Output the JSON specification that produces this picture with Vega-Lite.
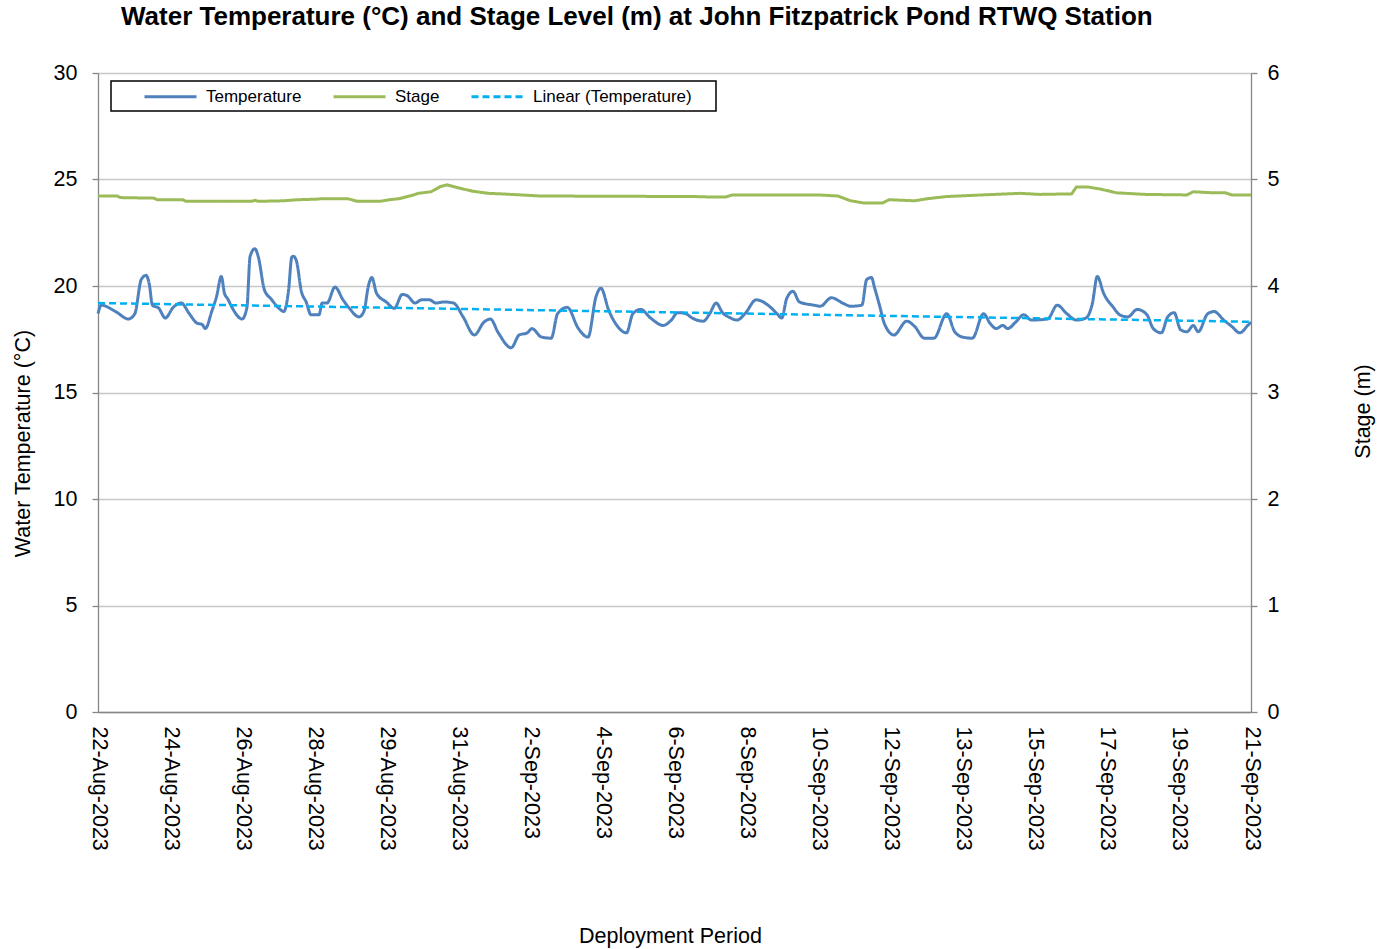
{
  "$schema": "https://vega.github.io/schema/vega-lite/v6.json",
  "width": 1153,
  "height": 639,
  "autosize": {"type": "none"},
  "padding": {"left": 98, "top": 73, "right": 141, "bottom": 237},
  "background": "white",
  "title": {
    "text": "Water Temperature (°C) and Stage Level (m) at John Fitzpatrick Pond RTWQ Station",
    "anchor": "start",
    "frame": "group",
    "dx": 23,
    "offset": 11,
    "baseline": "alphabetic",
    "font": "Liberation Sans",
    "fontSize": 26,
    "fontWeight": "bold",
    "color": "black"
  },
  "datasets": {
    "temp": [
      {"t": "2023-08-22T00:00", "T": 18.7},
      {"t": "2023-08-22T02:00", "T": 19.1},
      {"t": "2023-08-22T11:00", "T": 18.8},
      {"t": "2023-08-22T19:00", "T": 18.45},
      {"t": "2023-08-22T23:00", "T": 18.7},
      {"t": "2023-08-23T03:00", "T": 20.3},
      {"t": "2023-08-23T06:00", "T": 20.5},
      {"t": "2023-08-23T08:00", "T": 20.1},
      {"t": "2023-08-23T10:00", "T": 19.1},
      {"t": "2023-08-23T14:00", "T": 18.95},
      {"t": "2023-08-23T18:00", "T": 18.5},
      {"t": "2023-08-23T23:00", "T": 19.0},
      {"t": "2023-08-24T04:00", "T": 19.2},
      {"t": "2023-08-24T09:00", "T": 18.7},
      {"t": "2023-08-24T14:00", "T": 18.25},
      {"t": "2023-08-24T17:00", "T": 18.2},
      {"t": "2023-08-24T19:00", "T": 18.0},
      {"t": "2023-08-24T23:00", "T": 18.8},
      {"t": "2023-08-25T02:00", "T": 19.5},
      {"t": "2023-08-25T05:00", "T": 20.45},
      {"t": "2023-08-25T07:00", "T": 19.65},
      {"t": "2023-08-25T09:00", "T": 19.4},
      {"t": "2023-08-25T12:00", "T": 18.95},
      {"t": "2023-08-25T18:00", "T": 18.45},
      {"t": "2023-08-25T21:00", "T": 19.0},
      {"t": "2023-08-25T23:00", "T": 21.4},
      {"t": "2023-08-26T02:00", "T": 21.75},
      {"t": "2023-08-26T04:00", "T": 21.4},
      {"t": "2023-08-26T08:00", "T": 19.8},
      {"t": "2023-08-26T12:00", "T": 19.4},
      {"t": "2023-08-26T17:00", "T": 18.95},
      {"t": "2023-08-26T20:00", "T": 18.8},
      {"t": "2023-08-26T23:00", "T": 19.8},
      {"t": "2023-08-27T01:00", "T": 21.35},
      {"t": "2023-08-27T02:00", "T": 21.4},
      {"t": "2023-08-27T04:00", "T": 21.15},
      {"t": "2023-08-27T07:00", "T": 19.75},
      {"t": "2023-08-27T10:00", "T": 19.25},
      {"t": "2023-08-27T13:00", "T": 18.65},
      {"t": "2023-08-27T18:00", "T": 18.65},
      {"t": "2023-08-27T20:00", "T": 19.2},
      {"t": "2023-08-27T23:00", "T": 19.2},
      {"t": "2023-08-28T04:00", "T": 19.95},
      {"t": "2023-08-28T09:00", "T": 19.35},
      {"t": "2023-08-28T13:00", "T": 18.95},
      {"t": "2023-08-28T19:00", "T": 18.55},
      {"t": "2023-08-28T22:00", "T": 18.8},
      {"t": "2023-08-29T01:00", "T": 20.05},
      {"t": "2023-08-29T03:00", "T": 20.4},
      {"t": "2023-08-29T06:00", "T": 19.65},
      {"t": "2023-08-29T12:00", "T": 19.25},
      {"t": "2023-08-29T17:00", "T": 18.95},
      {"t": "2023-08-29T22:00", "T": 19.6},
      {"t": "2023-08-30T01:00", "T": 19.55},
      {"t": "2023-08-30T06:00", "T": 19.2},
      {"t": "2023-08-30T10:00", "T": 19.35},
      {"t": "2023-08-30T15:00", "T": 19.35},
      {"t": "2023-08-30T19:00", "T": 19.2},
      {"t": "2023-08-31T00:00", "T": 19.25},
      {"t": "2023-08-31T06:00", "T": 19.2},
      {"t": "2023-08-31T12:00", "T": 18.55},
      {"t": "2023-08-31T19:00", "T": 17.7},
      {"t": "2023-09-01T01:00", "T": 18.3},
      {"t": "2023-09-01T05:00", "T": 18.45},
      {"t": "2023-09-01T10:00", "T": 17.8},
      {"t": "2023-09-01T18:00", "T": 17.1},
      {"t": "2023-09-01T23:00", "T": 17.7},
      {"t": "2023-09-02T04:00", "T": 17.8},
      {"t": "2023-09-02T07:00", "T": 18.0},
      {"t": "2023-09-02T13:00", "T": 17.6},
      {"t": "2023-09-02T19:00", "T": 17.55},
      {"t": "2023-09-02T23:00", "T": 18.7},
      {"t": "2023-09-03T05:00", "T": 19.0},
      {"t": "2023-09-03T12:00", "T": 18.0},
      {"t": "2023-09-03T18:00", "T": 17.6},
      {"t": "2023-09-03T23:00", "T": 19.5},
      {"t": "2023-09-04T02:00", "T": 19.9},
      {"t": "2023-09-04T07:00", "T": 18.85},
      {"t": "2023-09-04T12:00", "T": 18.15},
      {"t": "2023-09-04T18:00", "T": 17.8},
      {"t": "2023-09-04T22:00", "T": 18.7},
      {"t": "2023-09-05T03:00", "T": 18.9},
      {"t": "2023-09-05T09:00", "T": 18.5},
      {"t": "2023-09-05T17:00", "T": 18.15},
      {"t": "2023-09-05T22:00", "T": 18.4},
      {"t": "2023-09-06T02:00", "T": 18.75},
      {"t": "2023-09-06T07:00", "T": 18.7},
      {"t": "2023-09-06T11:00", "T": 18.5},
      {"t": "2023-09-06T18:00", "T": 18.35},
      {"t": "2023-09-06T22:00", "T": 18.7},
      {"t": "2023-09-07T02:00", "T": 19.2},
      {"t": "2023-09-07T06:00", "T": 18.75},
      {"t": "2023-09-07T11:00", "T": 18.5},
      {"t": "2023-09-07T15:00", "T": 18.4},
      {"t": "2023-09-07T20:00", "T": 18.7},
      {"t": "2023-09-08T03:00", "T": 19.35},
      {"t": "2023-09-08T12:00", "T": 19.0},
      {"t": "2023-09-08T16:00", "T": 18.7},
      {"t": "2023-09-08T19:00", "T": 18.5},
      {"t": "2023-09-08T22:00", "T": 19.4},
      {"t": "2023-09-09T02:00", "T": 19.75},
      {"t": "2023-09-09T06:00", "T": 19.25},
      {"t": "2023-09-09T15:00", "T": 19.1},
      {"t": "2023-09-09T19:00", "T": 19.05},
      {"t": "2023-09-10T02:00", "T": 19.45},
      {"t": "2023-09-10T09:00", "T": 19.2},
      {"t": "2023-09-10T14:00", "T": 19.05},
      {"t": "2023-09-10T21:00", "T": 19.1},
      {"t": "2023-09-11T00:00", "T": 20.3},
      {"t": "2023-09-11T03:00", "T": 20.4},
      {"t": "2023-09-11T05:00", "T": 19.9},
      {"t": "2023-09-11T08:00", "T": 19.1},
      {"t": "2023-09-11T11:00", "T": 18.25},
      {"t": "2023-09-11T17:00", "T": 17.7},
      {"t": "2023-09-12T01:00", "T": 18.35},
      {"t": "2023-09-12T06:00", "T": 18.1},
      {"t": "2023-09-12T12:00", "T": 17.55},
      {"t": "2023-09-12T18:00", "T": 17.55},
      {"t": "2023-09-13T02:00", "T": 18.7},
      {"t": "2023-09-13T07:00", "T": 17.85},
      {"t": "2023-09-13T12:00", "T": 17.6},
      {"t": "2023-09-13T18:00", "T": 17.55},
      {"t": "2023-09-14T01:00", "T": 18.7},
      {"t": "2023-09-14T05:00", "T": 18.25},
      {"t": "2023-09-14T09:00", "T": 18.0},
      {"t": "2023-09-14T13:00", "T": 18.15},
      {"t": "2023-09-14T16:00", "T": 18.0},
      {"t": "2023-09-14T21:00", "T": 18.3},
      {"t": "2023-09-15T02:00", "T": 18.65},
      {"t": "2023-09-15T07:00", "T": 18.4},
      {"t": "2023-09-15T17:00", "T": 18.45},
      {"t": "2023-09-15T23:00", "T": 19.1},
      {"t": "2023-09-16T05:00", "T": 18.7},
      {"t": "2023-09-16T11:00", "T": 18.4},
      {"t": "2023-09-16T17:00", "T": 18.5},
      {"t": "2023-09-16T21:00", "T": 19.2},
      {"t": "2023-09-17T00:00", "T": 20.45},
      {"t": "2023-09-17T04:00", "T": 19.65},
      {"t": "2023-09-17T10:00", "T": 19.0},
      {"t": "2023-09-17T14:00", "T": 18.65},
      {"t": "2023-09-17T19:00", "T": 18.55},
      {"t": "2023-09-18T01:00", "T": 18.9},
      {"t": "2023-09-18T07:00", "T": 18.65},
      {"t": "2023-09-18T11:00", "T": 18.0},
      {"t": "2023-09-18T16:00", "T": 17.8},
      {"t": "2023-09-18T20:00", "T": 18.55},
      {"t": "2023-09-19T00:00", "T": 18.75},
      {"t": "2023-09-19T04:00", "T": 17.95},
      {"t": "2023-09-19T08:00", "T": 17.85},
      {"t": "2023-09-19T12:00", "T": 18.15},
      {"t": "2023-09-19T15:00", "T": 17.85},
      {"t": "2023-09-19T21:00", "T": 18.7},
      {"t": "2023-09-20T01:00", "T": 18.8},
      {"t": "2023-09-20T07:00", "T": 18.4},
      {"t": "2023-09-20T12:00", "T": 18.1},
      {"t": "2023-09-20T17:00", "T": 17.8},
      {"t": "2023-09-20T22:00", "T": 18.15},
      {"t": "2023-09-21T00:00", "T": 18.3}
    ],
    "stage": [
      {"t": "2023-08-22T00:00", "S": 4.845},
      {"t": "2023-08-22T12:00", "S": 4.845},
      {"t": "2023-08-22T14:00", "S": 4.83},
      {"t": "2023-08-23T11:00", "S": 4.825},
      {"t": "2023-08-23T13:00", "S": 4.81},
      {"t": "2023-08-24T05:00", "S": 4.81},
      {"t": "2023-08-24T07:00", "S": 4.795},
      {"t": "2023-08-26T00:00", "S": 4.795},
      {"t": "2023-08-26T02:00", "S": 4.805},
      {"t": "2023-08-26T04:00", "S": 4.795},
      {"t": "2023-08-26T20:00", "S": 4.8},
      {"t": "2023-08-27T04:00", "S": 4.81},
      {"t": "2023-08-27T16:00", "S": 4.815},
      {"t": "2023-08-27T20:00", "S": 4.82},
      {"t": "2023-08-28T12:00", "S": 4.82},
      {"t": "2023-08-28T18:00", "S": 4.795},
      {"t": "2023-08-29T08:00", "S": 4.795},
      {"t": "2023-08-29T14:00", "S": 4.81},
      {"t": "2023-08-29T20:00", "S": 4.82},
      {"t": "2023-08-30T04:00", "S": 4.85},
      {"t": "2023-08-30T08:00", "S": 4.87},
      {"t": "2023-08-30T16:00", "S": 4.885},
      {"t": "2023-08-30T22:00", "S": 4.935},
      {"t": "2023-08-31T02:00", "S": 4.95},
      {"t": "2023-08-31T08:00", "S": 4.925},
      {"t": "2023-08-31T18:00", "S": 4.89},
      {"t": "2023-09-01T04:00", "S": 4.87},
      {"t": "2023-09-01T12:00", "S": 4.865},
      {"t": "2023-09-02T00:00", "S": 4.855},
      {"t": "2023-09-02T12:00", "S": 4.845},
      {"t": "2023-09-06T12:00", "S": 4.84},
      {"t": "2023-09-07T00:00", "S": 4.835},
      {"t": "2023-09-07T08:00", "S": 4.835},
      {"t": "2023-09-07T12:00", "S": 4.855},
      {"t": "2023-09-09T18:00", "S": 4.855},
      {"t": "2023-09-10T06:00", "S": 4.845},
      {"t": "2023-09-10T14:00", "S": 4.8},
      {"t": "2023-09-10T22:00", "S": 4.78},
      {"t": "2023-09-11T10:00", "S": 4.78},
      {"t": "2023-09-11T14:00", "S": 4.81},
      {"t": "2023-09-12T06:00", "S": 4.8},
      {"t": "2023-09-12T14:00", "S": 4.82},
      {"t": "2023-09-13T02:00", "S": 4.84},
      {"t": "2023-09-14T00:00", "S": 4.855},
      {"t": "2023-09-15T00:00", "S": 4.87},
      {"t": "2023-09-15T12:00", "S": 4.86},
      {"t": "2023-09-16T08:00", "S": 4.865},
      {"t": "2023-09-16T11:00", "S": 4.93},
      {"t": "2023-09-16T18:00", "S": 4.93},
      {"t": "2023-09-17T02:00", "S": 4.91},
      {"t": "2023-09-17T12:00", "S": 4.875},
      {"t": "2023-09-18T06:00", "S": 4.86},
      {"t": "2023-09-19T08:00", "S": 4.855},
      {"t": "2023-09-19T12:00", "S": 4.885},
      {"t": "2023-09-20T00:00", "S": 4.875},
      {"t": "2023-09-20T08:00", "S": 4.875},
      {"t": "2023-09-20T12:00", "S": 4.855},
      {"t": "2023-09-21T00:00", "S": 4.855}
    ],
    "trend": [
      {"t": "2023-08-22T00:00", "T": 19.2},
      {"t": "2023-09-21T00:00", "T": 18.32}
    ]
  },
  "layer": [
    {
      "layer": [
        {
          "data": {"name": "temp"},
          "mark": {"type": "line", "strokeWidth": 3, "interpolate": "monotone"},
          "encoding": {
            "x": {
              "field": "t",
              "type": "temporal",
              "scale": {"domain": [{"year": 2023, "month": "aug", "date": 22}, {"year": 2023, "month": "sep", "date": 21}], "nice": false},
              "axis": {
                "title": "Deployment Period",
                "values": [
                  {"year": 2023, "month": "aug", "date": 22, "hours": 0},
                  {"year": 2023, "month": "aug", "date": 23, "hours": 21},
                  {"year": 2023, "month": "aug", "date": 25, "hours": 18},
                  {"year": 2023, "month": "aug", "date": 27, "hours": 15},
                  {"year": 2023, "month": "aug", "date": 29, "hours": 12},
                  {"year": 2023, "month": "aug", "date": 31, "hours": 9},
                  {"year": 2023, "month": "sep", "date": 2, "hours": 6},
                  {"year": 2023, "month": "sep", "date": 4, "hours": 3},
                  {"year": 2023, "month": "sep", "date": 6, "hours": 0},
                  {"year": 2023, "month": "sep", "date": 7, "hours": 21},
                  {"year": 2023, "month": "sep", "date": 9, "hours": 18},
                  {"year": 2023, "month": "sep", "date": 11, "hours": 15},
                  {"year": 2023, "month": "sep", "date": 13, "hours": 12},
                  {"year": 2023, "month": "sep", "date": 15, "hours": 9},
                  {"year": 2023, "month": "sep", "date": 17, "hours": 6},
                  {"year": 2023, "month": "sep", "date": 19, "hours": 3},
                  {"year": 2023, "month": "sep", "date": 21, "hours": 0}
                ],
                "labelExpr": "['22-Aug-2023','24-Aug-2023','26-Aug-2023','28-Aug-2023','29-Aug-2023','31-Aug-2023','2-Sep-2023','4-Sep-2023','6-Sep-2023','8-Sep-2023','10-Sep-2023','12-Sep-2023','13-Sep-2023','15-Sep-2023','17-Sep-2023','19-Sep-2023','21-Sep-2023'][round((datum.value - datetime(2023, 7, 22)) / 162000000)]",
                "labelAngle": 90,
                "labelPadding": 14,
                "ticks": false,
                "grid": false,
                "labelOverlap": false,
                "labelBound": false,
                "labelFlush": false,
                "titleY": 224,
                "titleX": 572,
                "titleBaseline": "middle",
                "titleAlign": "center"
              }
            },
            "y": {
              "field": "T",
              "type": "quantitative",
              "scale": {"domain": [0, 30], "nice": false, "zero": true},
              "axis": {
                "orient": "left",
                "title": "Water Temperature (°C)",
                "values": [0, 5, 10, 15, 20, 25, 30],
                "grid": true,
                "tickSize": 6,
                "labelPadding": 15,
                "titleAngle": 270,
                "titleX": -75,
                "titleY": 370,
                "titleBaseline": "middle",
                "titleAlign": "center",
                "labelFlush": false,
                "labelOverlap": false
              }
            },
            "color": {
              "datum": "Temperature",
              "scale": {"domain": ["Temperature", "Stage", "Linear (Temperature)"], "range": ["#4F81BD", "#9BBB59", "#00B0F0"]},
              "legend": {
                "title": null,
                "encode": {"symbols": {"update": {"shape": {"signal": "datum.value === 'Linear (Temperature)' ? 'M-1,0H5.5M28,0' : 'M-1,0H5.5'"}}}}
              }
            },
            "strokeDash": {
              "datum": "Temperature",
              "scale": {"domain": ["Temperature", "Stage", "Linear (Temperature)"], "range": [[1, 0], [1, 0], [7, 4]]},
              "legend": {
                "title": null,
                "encode": {"symbols": {"update": {"shape": {"signal": "datum.value === 'Linear (Temperature)' ? 'M-1,0H5.5M28,0' : 'M-1,0H5.5'"}}}}
              }
            }
          }
        },
        {
          "data": {"name": "trend"},
          "mark": {"type": "line", "strokeWidth": 2.5},
          "encoding": {
            "x": {"field": "t", "type": "temporal"},
            "y": {"field": "T", "type": "quantitative"},
            "color": {"datum": "Linear (Temperature)"},
            "strokeDash": {"datum": "Linear (Temperature)"}
          }
        }
      ]
    },
    {
      "data": {"name": "stage"},
      "mark": {"type": "line", "strokeWidth": 3},
      "encoding": {
        "x": {"field": "t", "type": "temporal"},
        "y": {
          "field": "S",
          "type": "quantitative",
          "scale": {"domain": [0, 6], "nice": false},
          "axis": {
            "orient": "right",
            "title": "Stage (m)",
            "values": [0, 1, 2, 3, 4, 5, 6],
            "grid": false,
            "tickSize": 6,
            "labelPadding": 10,
            "titleAngle": 270,
            "titleX": 112,
            "titleY": 338,
            "titleBaseline": "middle",
            "titleAlign": "center",
            "labelFlush": false,
            "labelOverlap": false
          }
        },
        "color": {"datum": "Stage"},
        "strokeDash": {"datum": "Stage"}
      }
    }
  ],
  "resolve": {"scale": {"y": "independent"}},
  "config": {
    "view": {"stroke": null},
    "font": "Liberation Sans",
    "axis": {
      "labelFont": "Liberation Sans",
      "titleFont": "Liberation Sans",
      "labelFontSize": 21.5,
      "titleFontSize": 21.5,
      "titleFontWeight": "normal",
      "labelColor": "black",
      "titleColor": "black",
      "domainColor": "#868686",
      "domainWidth": 1.3,
      "tickColor": "#868686",
      "tickWidth": 1.3,
      "gridColor": "#C8C8C8",
      "gridWidth": 1.3
    },
    "legend": {
      "orient": "none",
      "legendX": 13,
      "legendY": 8,
      "direction": "horizontal",
      "strokeColor": "black",
      "strokeWidth": 1.5,
      "fillColor": "white",
      "padding": 6,
      "labelFont": "Liberation Sans",
      "labelFontSize": 17,
      "labelColor": "black",
      "labelLimit": 400,
      "labelOffset": 44,
      "symbolOffset": 26,
      "columnPadding": 4,
      "symbolType": "M-1,0H5.5",
      "symbolSize": 256,
      "symbolStrokeWidth": 3
    }
  }
}
